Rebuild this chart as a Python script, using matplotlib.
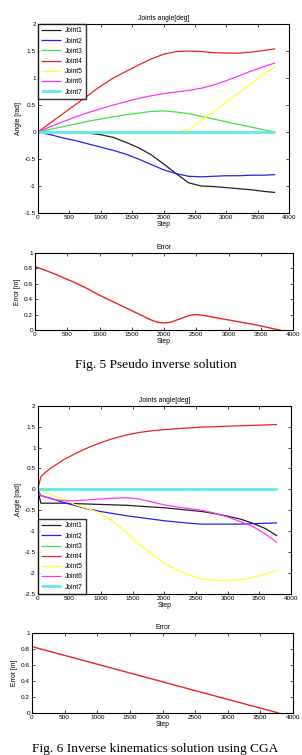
import matplotlib
matplotlib.use("Agg")
import matplotlib.pyplot as plt
from matplotlib.ticker import FuncFormatter, MultipleLocator

plt.rcParams['font.family'] = ['Liberation Sans', 'DejaVu Sans']
plt.rcParams['axes.unicode_minus'] = False

# ---------------- data: Fig. 5 (pseudo inverse) ----------------
steps5 = [0, 200, 400, 600, 800, 1000, 1200, 1400, 1600, 1800, 2000, 2200,
          2400, 2600, 2800, 3000, 3200, 3400, 3600, 3780]
j1_5 = [0, 0, 0, -0.01, -0.02, -0.05, -0.1, -0.19, -0.29, -0.42, -0.59, -0.77,
        -0.94, -1.0, -1.01, -1.03, -1.05, -1.07, -1.1, -1.12]
j2_5 = [0, -0.05, -0.11, -0.16, -0.22, -0.28, -0.34, -0.41, -0.5, -0.6, -0.7, -0.77,
        -0.82, -0.83, -0.82, -0.81, -0.81, -0.80, -0.80, -0.79]
j3_5 = [0, 0.05, 0.1, 0.15, 0.2, 0.24, 0.28, 0.32, 0.35, 0.38, 0.39, 0.37,
        0.34, 0.29, 0.24, 0.19, 0.14, 0.09, 0.04, 0.0]
j4_5 = [0, 0.17, 0.34, 0.51, 0.68, 0.85, 1.0, 1.12, 1.24, 1.35, 1.44, 1.49,
        1.50, 1.49, 1.47, 1.46, 1.46, 1.48, 1.51, 1.54]
j5_5 = [0, 0, 0, 0, 0, 0, 0, 0, 0, 0, 0, 0,
        0.04, 0.21, 0.38, 0.55, 0.72, 0.9, 1.07, 1.22]
j6_5 = [0, 0.1, 0.19, 0.28, 0.36, 0.43, 0.5, 0.56, 0.62, 0.67, 0.71, 0.74,
        0.77, 0.81, 0.87, 0.95, 1.04, 1.13, 1.21, 1.28]
j7_5 = [0] * len(steps5)

err_steps5 = [0, 0, 200, 400, 600, 800, 1000, 1200, 1400, 1600, 1800, 1900, 2000,
              2100, 2200, 2300, 2400, 2500, 2600, 2800, 3000, 3200, 3400, 3600,
              3700, 3800]
err5 = [1.0, 0.82, 0.76, 0.69, 0.62, 0.54, 0.45, 0.37, 0.29, 0.21, 0.13, 0.10, 0.09,
        0.10, 0.13, 0.16, 0.19, 0.20, 0.19, 0.16, 0.13, 0.10, 0.07, 0.035,
        0.015, 0.0]

# ---------------- data: Fig. 6 (CGA) ----------------
steps6 = [0, 50, 100, 200, 300, 400, 600, 800, 1000, 1200, 1400, 1600, 1800, 2000,
          2200, 2400, 2600, 2800, 3000, 3200, 3400, 3600, 3780]
j1_6 = [0, -0.33, -0.33, -0.33, -0.33, -0.33, -0.34, -0.35, -0.36, -0.37, -0.38,
        -0.4, -0.42, -0.44, -0.47, -0.5, -0.53, -0.58, -0.64, -0.71, -0.81, -0.94, -1.11]
j2_6 = [0, -0.15, -0.17, -0.21, -0.26, -0.31, -0.39, -0.47, -0.53, -0.58, -0.63,
        -0.67, -0.71, -0.75, -0.78, -0.81, -0.83, -0.83, -0.83, -0.83, -0.82, -0.81, -0.8]
j3_6 = [0] * len(steps6)
j4_6 = [0, 0.3, 0.38, 0.5, 0.6, 0.7, 0.86, 1.0, 1.12, 1.22, 1.3, 1.36, 1.4, 1.43,
        1.45, 1.47, 1.49, 1.5, 1.51, 1.52, 1.53, 1.54, 1.55]
j5_6 = [0, -0.03, -0.06, -0.12, -0.18, -0.24, -0.37, -0.46, -0.58, -0.78, -1.02,
        -1.3, -1.55, -1.77, -1.93, -2.06, -2.14, -2.17, -2.18, -2.16, -2.1, -2.02, -1.93]
j6_6 = [0, -0.15, -0.17, -0.22, -0.25, -0.27, -0.27, -0.25, -0.23, -0.21, -0.2,
        -0.23, -0.3, -0.37, -0.42, -0.46, -0.5, -0.57, -0.66, -0.77, -0.89, -1.07, -1.27]
j7_6 = [0] * len(steps6)

err_steps6 = [0, 1000, 2000, 3000, 3780]
err6 = [0.83, 0.61, 0.39, 0.17, 0.0]

labels = ['Joint1', 'Joint2', 'Joint3', 'Joint4', 'Joint5', 'Joint6', 'Joint7']
colors = ['#222222', '#2222ee', '#44e044', '#ee2222', '#ffff33', '#ff33ff', '#66e8e8']
widths = [0.9, 0.9, 0.9, 0.9, 0.9, 0.9, 2.0]

FS = 4.6
W, H = 302, 755
fig = plt.figure(figsize=(W / 100, H / 100), dpi=100)


def ax_px(left, top, right, bottom):
    return fig.add_axes([left / W, 1 - bottom / H, (right - left) / W, (bottom - top) / H])


fmt = FuncFormatter(lambda v, p: ('%g' % round(v, 3)))


def style(ax, xlab='Step'):
    ax.tick_params(direction='in', length=2, width=0.5, labelsize=FS, pad=1.5,
                   top=True, right=True)
    for s in ax.spines.values():
        s.set_linewidth(0.8)
    ax.xaxis.set_major_locator(MultipleLocator(500))
    ax.xaxis.set_major_formatter(fmt)
    ax.yaxis.set_major_formatter(fmt)
    ax.set_xlim(0, 4000)
    ax.set_xlabel(xlab, fontsize=FS + 0.3, labelpad=1)


def joints(ax, steps, series, loc):
    for y, lab, c, w in zip(series, labels, colors, widths):
        ax.plot(steps, y, color=c, lw=w, label=lab, solid_capstyle='butt')
    leg = ax.legend(loc=loc, fontsize=FS + 0.2, frameon=True, fancybox=False,
                    borderaxespad=0, handlelength=3.0, labelspacing=0.48,
                    borderpad=0.5, handletextpad=0.5)
    leg.get_frame().set_edgecolor('black')
    leg.get_frame().set_linewidth(1.0)
    ax.set_title('Joints angle[deg]', fontsize=FS + 0.3, pad=3)
    ax.set_ylabel('Angle [rad]', fontsize=FS + 0.3, labelpad=2)


# panel 1
a1 = ax_px(38, 24, 289, 213)
joints(a1, steps5, [j1_5, j2_5, j3_5, j4_5, j5_5, j6_5, j7_5], 'upper left')
a1.set_ylim(-1.5, 2)
a1.yaxis.set_major_locator(MultipleLocator(0.5))
style(a1)

# panel 2
a2 = ax_px(35, 252.7, 293, 330)
a2.plot(err_steps5, err5, color='#ee2222', lw=1.0)
a2.set_ylim(0, 1)
a2.yaxis.set_major_locator(MultipleLocator(0.2))
a2.set_title('Error', fontsize=FS + 0.3, pad=3)
a2.set_ylabel('Error [m]', fontsize=FS + 0.3, labelpad=2)
style(a2)

fig.text(156 / W, 1 - 365 / H, 'Fig. 5 Pseudo inverse solution', ha='center', va='center',
         fontsize=9.6, family='Liberation Serif')

# panel 3
a3 = ax_px(37.7, 405.7, 291, 594)
joints(a3, steps6, [j1_6, j2_6, j3_6, j4_6, j5_6, j6_6, j7_6], 'lower left')
a3.set_ylim(-2.5, 2)
a3.yaxis.set_major_locator(MultipleLocator(0.5))
style(a3)

# panel 4
a4 = ax_px(32, 633, 293, 713)
a4.plot(err_steps6, err6, color='#ee2222', lw=1.0)
a4.set_ylim(0, 1)
a4.yaxis.set_major_locator(MultipleLocator(0.2))
a4.set_title('Error', fontsize=FS + 0.3, pad=3)
a4.set_ylabel('Error [m]', fontsize=FS + 0.3, labelpad=2)
style(a4)

fig.text(155 / W, 1 - 749 / H, 'Fig. 6 Inverse kinematics solution using CGA', ha='center',
         va='center', fontsize=9.6, family='Liberation Serif')

fig.savefig('out.png', dpi=100)
